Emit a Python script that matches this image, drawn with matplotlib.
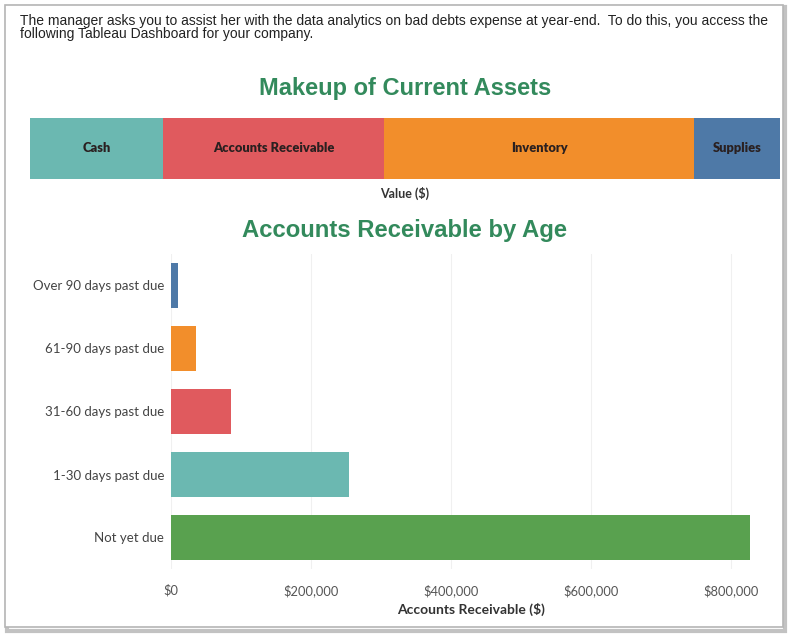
import matplotlib.pyplot as plt
from matplotlib.patches import Rectangle
from matplotlib.ticker import FuncFormatter

plt.rcParams['font.family'] = ['Liberation Sans', 'DejaVu Sans']

# Makeup of current assets (stacked bar)
asset_names = ['Cash', 'Accounts Receivable', 'Inventory', 'Supplies']
asset_values = [730000, 1213000, 1700000, 472000]
asset_colors = ['#6bb8b1', '#e05a5e', '#f28e2b', '#4e79a7']

# Accounts receivable by age
age_labels = ['Over 90 days past due', '61-90 days past due', '31-60 days past due',
              '1-30 days past due', 'Not yet due']
age_values = [10000, 36000, 86000, 254000, 827000]
age_colors = ['#4e79a7', '#f28e2b', '#e05a5e', '#6bb8b1', '#59a14f']
age_ticks = [0, 200000, 400000, 600000, 800000]

W, H = 788, 634
fig = plt.figure(figsize=(W / 100, H / 100), dpi=100)
fig.patch.set_facecolor('white')

def box(x0, y0, x1, y1):
    # pixel box (top-left origin) -> figure fraction rect
    return [x0 / W, 1 - y1 / H, (x1 - x0) / W, (y1 - y0) / H]

tab_font = ['Lato', 'DejaVu Sans']

# frame with shadow
fig.add_artist(Rectangle((7 / W, 1 - 631 / H), 778 / W, 624 / H, transform=fig.transFigure,
                         facecolor='none', edgecolor='#9a9a9a', lw=3, alpha=0.6, zorder=-2))
fig.add_artist(Rectangle((5 / W, 1 - 627 / H), 778 / W, 622 / H, transform=fig.transFigure,
                         facecolor='white', edgecolor='#b5b5b5', lw=1.2, zorder=-1))

fig.text(20 / W, 1 - 14 / H,
         'The manager asks you to assist her with the data analytics on bad debts expense at year-end.  '
         'To do this, you access the\nfollowing Tableau Dashboard for your company.',
         ha='left', va='top', fontsize=10.0, color='#222222', linespacing=0.92)

green = '#338a5c'
fig.text(405 / W, 1 - 89 / H, 'Makeup of Current Assets', ha='center', va='center',
         fontsize=17, fontweight='bold', color=green)
fig.text(405 / W, 1 - 231 / H, 'Accounts Receivable by Age', ha='center', va='center',
         fontsize=17.2, fontweight='bold', color=green)

# stacked bar
ax1 = fig.add_axes(box(30, 118, 780, 179))
left = 0
for name, val, col in zip(asset_names, asset_values, asset_colors):
    ax1.barh(0, val, left=left, height=1, color=col, edgecolor='none')
    ax1.text(left + val / 2, 0, name, ha='center', va='center', fontsize=9.3,
             fontweight='heavy', color='#2a2020', family=tab_font)
    left += val
ax1.set_xlim(0, left)
ax1.set_ylim(-0.5, 0.5)
ax1.axis('off')
fig.text(405 / W, 1 - 193 / H, 'Value ($)', ha='center', va='center', fontsize=9,
         fontweight='bold', color='#333333', family=tab_font)

# aging bar chart
ax2 = fig.add_axes(box(171, 254, 772, 569))
pos = list(range(len(age_labels)))
ax2.barh(pos, age_values, height=0.7, color=age_colors, edgecolor='none')
ax2.set_xlim(0, 858000)
ax2.set_ylim(len(age_labels) - 0.5, -0.5)
ax2.set_yticks(pos)
ax2.set_yticklabels(age_labels, fontsize=9.5, color='#444444', family=tab_font)
ax2.set_xticks(age_ticks)
ax2.xaxis.set_major_formatter(FuncFormatter(lambda v, p: '${:,.0f}'.format(v)))
for lab in ax2.get_xticklabels():
    lab.set_fontsize(9.3)
    lab.set_color('#555555')
    lab.set_family(tab_font)
ax2.tick_params(length=0, pad=5)
ax2.tick_params(axis='x', pad=11)
ax2.grid(axis='x', color='#f0f0f0', lw=0.8)
ax2.set_axisbelow(True)
for s in ax2.spines.values():
    s.set_visible(False)
ax2.set_xlabel('Accounts Receivable ($)', fontsize=10, fontweight='bold', color='#333333',
               family=tab_font, labelpad=4)

fig.savefig('out.png', dpi=100)
